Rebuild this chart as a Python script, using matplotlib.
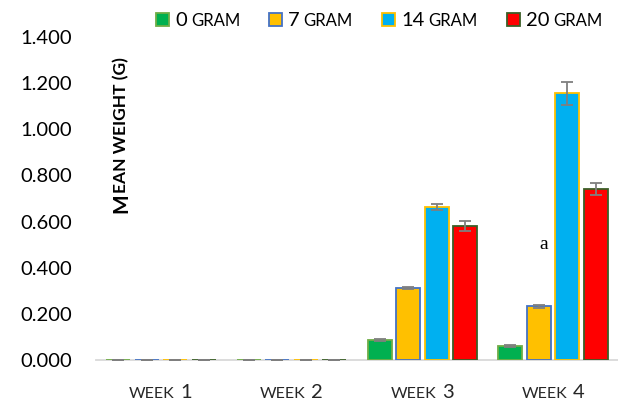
import matplotlib
matplotlib.use("Agg")
import matplotlib.pyplot as plt
from matplotlib.patches import Rectangle
import numpy as np

weeks = ["1", "2", "3", "4"]
doses = ["0", "7", "14", "20"]
# mean weight (g) per dose, one list per dose across weeks 1..4
w0 = [0.002, 0.002, 0.087, 0.061]
w7 = [0.002, 0.002, 0.312, 0.232]
w14 = [0.002, 0.002, 0.662, 1.157]
w20 = [0.002, 0.002, 0.581, 0.742]
e0 = [0.0, 0.0, 0.006, 0.004]
e7 = [0.0, 0.0, 0.004, 0.008]
e14 = [0.0, 0.0, 0.013, 0.050]
e20 = [0.0, 0.0, 0.020, 0.026]
yticks = [0.0, 0.2, 0.4, 0.6, 0.8, 1.0, 1.2, 1.4]

fills = ["#00b050", "#ffc000", "#00b0f0", "#ff0000"]
edges = ["#70ad47", "#4472c4", "#ffc000", "#3b5f27"]

FONT = "Lato"
W, H = 618, 401

fig = plt.figure(figsize=(W / 100, H / 100), dpi=100)
ax = fig.add_axes([95.5 / W, 41 / H, 523 / W, 323 / H])

x = np.arange(len(weeks))
bw = 0.183
step = 0.218
series = [w0, w7, w14, w20]
errs = [e0, e7, e14, e20]
for i in range(4):
    pos = x + (i - 1.5) * step
    ax.bar(pos, series[i], bw, color=fills[i], edgecolor=edges[i], linewidth=1.3, zorder=2)
    ax.errorbar(pos, series[i], yerr=errs[i], fmt="none", ecolor="#7f7f7f",
                elinewidth=1.3, capsize=4, capthick=1.3, zorder=3)

ax.set_xlim(-0.5, 3.5)
ax.set_ylim(0, 1.4)
ax.set_yticks(yticks)
ax.set_yticklabels(["%.3f" % v for v in yticks], fontfamily=FONT, fontsize=14.5)
ax.tick_params(axis="y", length=0, pad=17)
ax.set_xticks([])
for s in ["top", "right", "left"]:
    ax.spines[s].set_visible(False)
ax.spines["bottom"].set_color("#d9d9d9")
ax.spines["bottom"].set_linewidth(1.3)
ax.spines["bottom"].set_zorder(1)

# week labels in small caps style
for i, wk in enumerate(weeks):
    ax.annotate("WEEK", xy=(x[i], 0), xycoords=("data", "axes fraction"),
                xytext=(10, -27), textcoords="offset points", ha="right", va="baseline",
                fontsize=11.5, fontfamily=FONT, color="#262626")
    ax.annotate(wk, xy=(x[i], 0), xycoords=("data", "axes fraction"),
                xytext=(14, -27), textcoords="offset points", ha="left", va="baseline",
                fontsize=14.5, fontfamily=FONT, color="#262626")

# y label
fig.text(121 / W, 1 - 213 / H, "M", rotation=90, ha="center", va="bottom",
         fontsize=15, fontweight="bold", fontfamily=FONT)
fig.text(121.5 / W, 1 - 193 / H, "EAN WEIGHT (G)", rotation=90, ha="center", va="bottom",
         fontsize=12.5, fontweight="bold", fontfamily=FONT)

# annotation
ax.text(3.0 - 0.07, 0.50, "a", fontfamily="Liberation Serif", fontsize=14,
        ha="center", va="center")

# legend drawn by hand
leg_x = [156, 269, 382, 507]
for i, d in enumerate(doses):
    fig.patches.append(Rectangle((leg_x[i] / W, 1 - 26 / H), 13 / W, 13 / H,
                                 transform=fig.transFigure, facecolor=fills[i],
                                 edgecolor=edges[i], linewidth=1.3))
    t = fig.text((leg_x[i] + 19) / W, 1 - 26 / H, d, fontsize=14.5, fontfamily=FONT,
                 ha="left", va="baseline")
    fig.canvas.draw()
    bb = t.get_window_extent()
    fig.text((bb.x1 + 4) / W, 1 - 26 / H, "GRAM", fontsize=12, fontfamily=FONT,
             ha="left", va="baseline")

fig.savefig("out.png", dpi=100)
